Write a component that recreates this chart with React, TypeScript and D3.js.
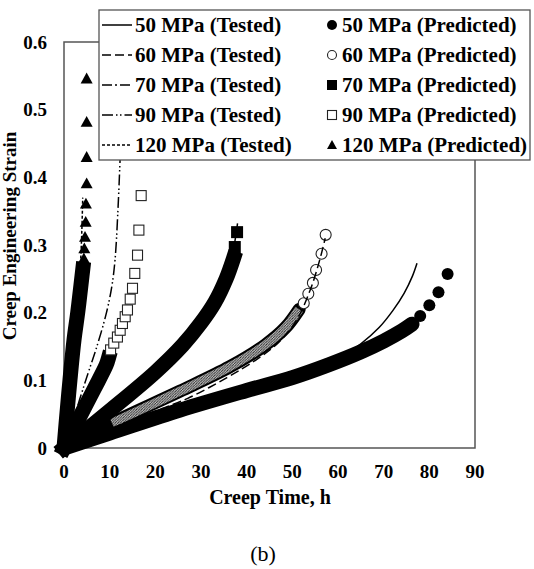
import React from "react";
import * as d3 from "d3";

// ---- data ----
const xTicks = [0, 10, 20, 30, 40, 50, 60, 70, 80, 90];
const yTicks = [0, 0.1, 0.2, 0.3, 0.4, 0.5, 0.6];

// tested curves [time h, strain]
const tested50: [number, number][] = [[0, 0], [20, 0.045], [40, 0.085], [55, 0.117], [61, 0.136], [65, 0.154], [69, 0.178], [72, 0.203], [74.5, 0.229], [76.3, 0.254], [77.3, 0.273]];
const tested60: [number, number][] = [[0, 0], [10, 0.028], [21.7, 0.059], [27, 0.073], [35.7, 0.104], [42, 0.13], [47, 0.156], [51, 0.19], [54, 0.235], [56, 0.278], [57.2, 0.31]];
const tested70: [number, number][] = [[0, 0], [10, 0.056], [20, 0.113], [26, 0.153], [30, 0.186], [33, 0.218], [35.5, 0.255], [37, 0.29], [38, 0.332]];
const tested90: [number, number][] = [[0, 0], [2.5, 0.052], [5, 0.105], [7.2, 0.15], [9.3, 0.2], [10.5, 0.24], [11.2, 0.28], [11.8, 0.35], [12.3, 0.43], [12.8, 0.52]];
const tested120: [number, number][] = [[0, 0], [1, 0.07], [2, 0.13], [3, 0.2], [3.6, 0.27], [3.9, 0.32], [4.1, 0.37]];

// predicted: dense runs of markers (merge into a band) + sparse tail markers
const pred50Dense: [number, number][] = [[0, 0], [10, 0.022], [25.4, 0.056], [40, 0.085], [50, 0.104], [58, 0.123], [65, 0.142], [70, 0.158], [74, 0.173], [76.2, 0.183]];
const pred50Tail: [number, number][] = [[78, 0.195], [80, 0.211], [82, 0.23], [84, 0.257]];
const pred60Dense: [number, number][] = [[0, 0], [5, 0.017], [10.5, 0.037], [25.4, 0.084], [36.3, 0.12], [44, 0.152], [48.5, 0.178], [51.5, 0.205]];
const pred60Tail: [number, number][] = [[52.5, 0.214], [53.5, 0.228], [54.5, 0.244], [55.2, 0.263], [56.4, 0.287], [57.3, 0.315]];
const pred70Dense: [number, number][] = [[0, 0], [10, 0.055], [20, 0.112], [26, 0.152], [30, 0.185], [33, 0.215], [35.5, 0.25], [37.1, 0.28]];
const pred70Tail: [number, number][] = [[37.4, 0.297], [37.9, 0.319]];
const pred90Dense: [number, number][] = [[0, 0], [3, 0.04], [6.5, 0.086], [9.2, 0.122], [9.7, 0.132]];
const pred90Tail: [number, number][] = [[10.2, 0.145], [10.9, 0.155], [11.7, 0.164], [12.3, 0.174], [12.8, 0.184], [13.4, 0.194], [13.9, 0.204], [14.5, 0.22], [15.0, 0.236], [15.5, 0.258], [16.1, 0.285], [16.4, 0.322], [16.9, 0.373]];
const pred120Dense: [number, number][] = [[0, 0], [0.5, 0.04], [1.3, 0.1], [2.2, 0.16], [3.0, 0.2], [3.7, 0.24], [4.3, 0.275]];
const pred120Tail: [number, number][] = [[4.35, 0.28], [4.45, 0.295], [4.6, 0.312], [4.75, 0.334], [4.8, 0.361], [4.96, 0.391], [4.96, 0.43], [4.96, 0.482], [4.96, 0.546]];

const testedLabels = ["50 MPa (Tested)", "60 MPa (Tested)", "70 MPa (Tested)", "90 MPa (Tested)", "120 MPa (Tested)"];
const predictedLabels = ["50 MPa (Predicted)", "60 MPa (Predicted)", "70 MPa (Predicted)", "90 MPa (Predicted)", "120 MPa (Predicted)"];

const dashes = ["none", "9,4", "10,3,2,3", "11,3,1.5,2.5,1.5,3", "3,2"];
type Shape = "circle" | "square" | "triangle";
const shapes: Shape[] = ["circle", "circle", "square", "square", "triangle"];
const filled = [true, false, true, false, true];

const W = 534, H = 569;
const x = d3.scaleLinear().domain([0, 90]).range([64, 475]);
const y = d3.scaleLinear().domain([0, 0.6]).range([448, 42]);
const line = d3.line<[number, number]>().x(d => x(d[0])).y(d => y(d[1])).curve(d3.curveCatmullRom.alpha(0.5));

const FONT = "'Liberation Serif', 'Times New Roman', serif";

function Marker({ cx, cy, shape, fill, size }: { cx: number; cy: number; shape: Shape; fill: boolean; size: number }) {
  const common = { fill: fill ? "#000" : "#fff", stroke: fill ? "none" : "#222", strokeWidth: 1.1 };
  if (shape === "circle") return <circle cx={cx} cy={cy} r={size / 2 - (fill ? 0 : 0.5)} {...common} />;
  if (shape === "square") {
    const s = size - (fill ? 0 : 1);
    return <rect x={cx - s / 2} y={cy - s / 2} width={s} height={s} {...common} />;
  }
  const h = size * 0.9;
  const p = `M${cx},${cy - h * 0.55}L${cx + size / 2},${cy + h * 0.45}L${cx - size / 2},${cy + h * 0.45}Z`;
  return <path d={p} {...common} />;
}

const denseSets = [pred50Dense, pred60Dense, pred70Dense, pred90Dense, pred120Dense];
const tailSets = [pred50Tail, pred60Tail, pred70Tail, pred90Tail, pred120Tail];
const testedSets = [tested50, tested60, tested70, tested90, tested120];
const markerSizes = [12, 12, 12, 11, 12];
const bandWidths = [15, 13, 15, 15, 15];

export default function App() {
  return (
    <svg width={W} height={H} style={{ display: "block", position: "absolute", left: 0, top: 0 }} fontFamily={FONT}>
      <defs>
        <pattern id="hatch" width="2.6" height="2.6" patternUnits="userSpaceOnUse">
          <rect width="2.6" height="2.6" fill="#c8c8c8" />
          <path d="M0,2.6L2.6,0" stroke="#222" strokeWidth="0.9" />
        </pattern>
      </defs>
      <rect x={0} y={0} width={W} height={H} fill="#fff" />
      {/* plot frame */}
      <rect x={x(0)} y={y(0.6)} width={x(90) - x(0)} height={y(0) - y(0.6)} fill="#fff" stroke="#555" strokeWidth={1.5} />

      {/* predicted series */}
      {denseSets.map((ds, i) => {
        const sh = shapes[i];
        const w = bandWidths[i];
        return (
          <g key={"p" + i}>
            <path d={line(ds) || ""} fill="none" stroke="#000" strokeWidth={w}
              strokeLinecap={sh === "circle" ? "round" : sh === "square" ? "square" : "butt"}
              strokeLinejoin="round" />
            {i === 1 && (
              <path d={line(ds.filter(d => d[0] >= 10.5)) || ""} fill="none" stroke="url(#hatch)" strokeWidth={w - 4} strokeLinecap="butt" />
            )}
            {tailSets[i].map((d, j) => (
              <Marker key={j} cx={x(d[0])} cy={y(d[1])} shape={sh} fill={filled[i]} size={markerSizes[i]} />
            ))}
          </g>
        );
      })}

      {/* tested series */}
      {testedSets.map((ts, i) => (
        <path key={"t" + i} d={line(ts) || ""} fill="none" stroke="#000" strokeWidth={1.5} strokeDasharray={dashes[i]} />
      ))}

      {/* y tick labels */}
      {yTicks.map(v => (
        <text key={"y" + v} x={47} y={y(v)} textAnchor="end" dominantBaseline="central" fontWeight="bold" fontSize={19}>{v === 0 ? "0" : v.toFixed(1)}</text>
      ))}
      {/* x tick labels */}
      {xTicks.map(v => (
        <text key={"x" + v} x={x(v)} y={471} textAnchor="middle" dominantBaseline="central" fontWeight="bold" fontSize={19}>{v}</text>
      ))}
      <text x={270} y={504} textAnchor="middle" fontWeight="bold" fontSize={20}>Creep Time, h</text>
      <text transform={`translate(16,236) rotate(-90)`} textAnchor="middle" fontWeight="bold" fontSize={19}>Creep Engineering Strain</text>
      <text x={263} y={561} textAnchor="middle" fontSize={22}>(b)</text>

      {/* legend */}
      <g>
        <rect x={99} y={10} width={431} height={150} fill="#fff" stroke="#555" strokeWidth={1.3} />
        {testedLabels.map((lab, i) => {
          const cy = 25 + i * 30;
          return (
            <g key={"lt" + i}>
              <line x1={102} x2={132} y1={cy} y2={cy} stroke="#000" strokeWidth={1.5} strokeDasharray={dashes[i]} />
              <text x={135} y={cy} dominantBaseline="central" fontWeight="bold" fontSize={21}>{lab}</text>
            </g>
          );
        })}
        {predictedLabels.map((lab, i) => {
          const cy = 25 + i * 30;
          return (
            <g key={"lp" + i}>
              <Marker cx={332} cy={cy} shape={shapes[i]} fill={filled[i]} size={10} />
              <text x={342} y={cy} dominantBaseline="central" fontWeight="bold" fontSize={21}>{lab}</text>
            </g>
          );
        })}
      </g>
    </svg>
  );
}
